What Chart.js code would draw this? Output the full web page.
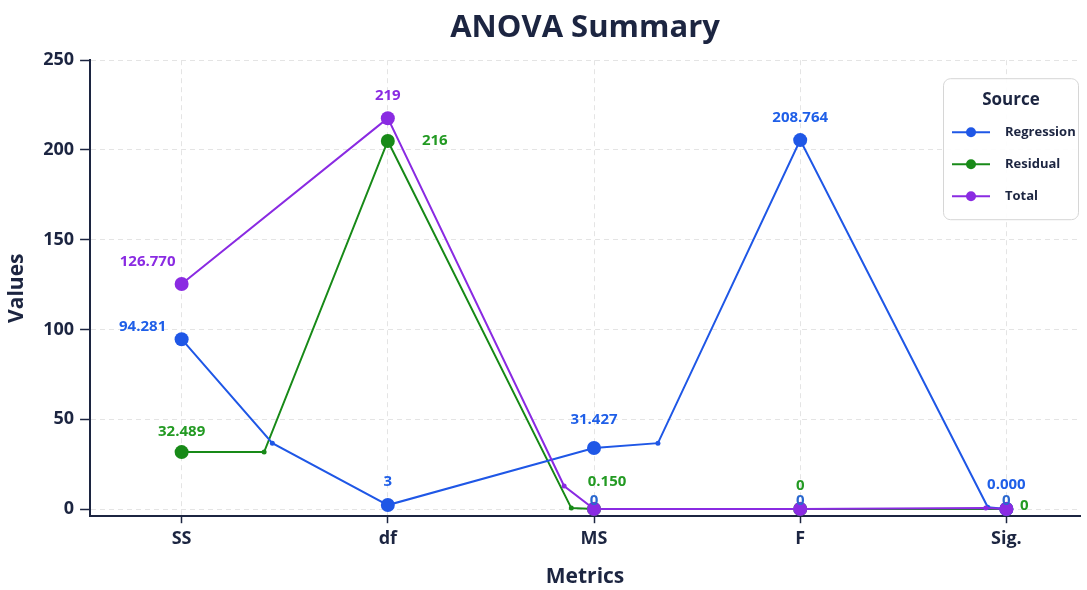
<!DOCTYPE html>
<html><head><meta charset="utf-8">
<script src="https://cdn.jsdelivr.net/npm/chart.js@4.4.0/dist/chart.umd.min.js"></script>
<style>html,body{margin:0;padding:0;background:#fff;}</style>
</head><body>
<canvas id="c" width="1087" height="590" style="width:1087px;height:590px;display:block"></canvas>
<script>
const categories = ['SS', 'df', 'MS', 'F', 'Sig.'];
const seriesNames = ['Regression', 'Residual', 'Total'];
const seriesColors = ['#1f57e6', '#188a18', '#8a2be2'];
const labelColors = ['#1f5fe8', '#239a23', '#8a2be2'];
// plotted values (as drawn) per category
const regressionValues = [94.6, 2.2, 34.0, 205.5, 0];
const residualValues = [31.7, 205.0, 0, 0, 0];
const totalValues = [125.3, 217.7, 0, 0, 0];
// printed value labels
const regressionLabels = ['94.281', '3', '31.427', '208.764', '0.000'];
const residualLabels = ['32.489', '216', '0.150', '0', '0'];
const totalLabels = ['126.770', '219', '0', '0', '0'];
// intermediate bend points (category position, value)
const regressionBendX = [0.44, 2.31, 3.91];
const regressionBendY = [36.7, 36.7, 1.0];
const residualBendX = [0.40, 1.89];
const residualBendY = [31.7, 0.5];
const totalBendX = [1.855, 3.9];
const totalBendY = [12.8, 0.5];
const yTicks = [0, 50, 100, 150, 200, 250];

const FONT = '"Open Sans", "Noto Sans", sans-serif';
const NAVY = '#1c2541';

function buildSeries(values, bx, by) {
  const pts = values.map((v, i) => ({ x: i, y: v, main: true }));
  bx.forEach((x, i) => pts.push({ x: x, y: by[i], main: false }));
  pts.sort((a, b) => a.x - b.x);
  return pts;
}
const allValues = [regressionValues, residualValues, totalValues];
const allLabels = [regressionLabels, residualLabels, totalLabels];
const allBends = [[regressionBendX, regressionBendY], [residualBendX, residualBendY], [totalBendX, totalBendY]];
const drawOrder = [1, 2, 0];

const datasets = seriesNames.map((name, k) => ({
  label: name,
  data: buildSeries(allValues[k], allBends[k][0], allBends[k][1]),
  borderColor: seriesColors[k],
  backgroundColor: seriesColors[k],
  borderWidth: 2,
  tension: 0,
  order: drawOrder[k],
  pointRadius: ctx => (ctx.raw && ctx.raw.main ? 7 : 2.5),
  pointHoverRadius: ctx => (ctx.raw && ctx.raw.main ? 7 : 2.5),
  pointBorderWidth: 0
}));

const labelOffsets = [
  [[-39, -12], [0, -23], [0, -28], [0, -22], [0, -24]],
  [[0, -20], [47, 0], [13, -27], [0, -23], [18, -3]],
  [[-34, -22], [0, -22], [0, -8], [0, -8], [0, -8]]
];

const valueLabelPlugin = {
  id: 'valueLabels',
  afterDatasetsDraw(chart) {
    const ctx = chart.ctx;
    ctx.save();
    ctx.font = 'bold 15px ' + FONT;
    ctx.textAlign = 'center';
    ctx.textBaseline = 'middle';
    [2, 1, 0].forEach(k => {
      const meta = chart.getDatasetMeta(k);
      meta.data.forEach((el, j) => {
        const raw = chart.data.datasets[k].data[j];
        if (!raw.main) return;
        const i = raw.x;
        const txt = allLabels[k][i];
        const off = labelOffsets[k][i];
        ctx.fillStyle = (k === 2 && txt === '0') ? '#2a68cf' : labelColors[k];
        ctx.fillText(txt, el.x + off[0], el.y + off[1]);
      });
    });
    ctx.restore();
  }
};

const legendPlugin = {
  id: 'boxLegend',
  afterDraw(chart) {
    const ctx = chart.ctx;
    const ca = chart.chartArea;
    const w = 135, h = 141;
    const x0 = ca.right - w - 2, y0 = ca.top + 18;
    ctx.save();
    ctx.beginPath();
    ctx.roundRect(x0 + 0.5, y0 + 0.5, w, h, 7);
    ctx.fillStyle = 'rgba(255,255,255,0.92)';
    ctx.fill();
    ctx.strokeStyle = '#d6d6d6';
    ctx.lineWidth = 1;
    ctx.stroke();
    ctx.fillStyle = NAVY;
    ctx.font = 'bold 17px ' + FONT;
    ctx.textAlign = 'center';
    ctx.textBaseline = 'middle';
    ctx.fillText('Source', x0 + 68, y0 + 22);
    ctx.font = 'bold 13px ' + FONT;
    ctx.textAlign = 'left';
    seriesNames.forEach((name, k) => {
      const yy = y0 + 54 + k * 32;
      ctx.strokeStyle = seriesColors[k];
      ctx.lineWidth = 2;
      ctx.beginPath();
      ctx.moveTo(x0 + 9, yy);
      ctx.lineTo(x0 + 47, yy);
      ctx.stroke();
      ctx.fillStyle = seriesColors[k];
      ctx.beginPath();
      ctx.arc(x0 + 28, yy, 5, 0, Math.PI * 2);
      ctx.fill();
      ctx.fillStyle = NAVY;
      ctx.fillText(name, x0 + 62, yy);
    });
    ctx.restore();
  }
};

new Chart(document.getElementById('c'), {
  type: 'line',
  data: { datasets: datasets },
  plugins: [valueLabelPlugin, legendPlugin],
  options: {
    responsive: false,
    animation: false,
    devicePixelRatio: 1,
    layout: { padding: { left: 4, right: 2, top: 0, bottom: 0 } },
    plugins: {
      legend: { display: false },
      tooltip: { enabled: false },
      title: {
        display: true,
        text: 'ANOVA Summary',
        fullSize: false,
        color: NAVY,
        font: { size: 31, weight: 'bold', family: FONT },
        padding: { top: 10, bottom: 13 }
      }
    },
    scales: {
      x: {
        type: 'linear',
        min: -0.444,
        max: 4.357,
        afterBuildTicks: s => { s.ticks = categories.map((c, i) => ({ value: i })); },
        ticks: {
          autoSkip: false,
          callback: v => categories[v],
          color: NAVY,
          font: { size: 18, weight: 'bold', family: FONT },
          padding: 5
        },
        grid: { color: '#e4e4e4', lineWidth: 1, tickColor: NAVY, tickLength: 7, tickWidth: 1.5 },
        border: { color: NAVY, width: 2, dash: [5, 4] },
        title: {
          display: true, text: 'Metrics', color: NAVY,
          font: { size: 21, weight: 'bold', family: FONT },
          padding: { top: 10, bottom: 0 }
        }
      },
      y: {
        type: 'linear',
        min: -4,
        max: 250,
        afterBuildTicks: s => { s.ticks = yTicks.map(v => ({ value: v })); },
        ticks: {
          color: NAVY,
          font: { size: 18, weight: 'bold', family: FONT },
          padding: 6
        },
        grid: { color: '#e4e4e4', lineWidth: 1, tickColor: NAVY, tickLength: 10, tickWidth: 1.5 },
        border: { color: NAVY, width: 2, dash: [5, 4] },
        title: {
          display: true, text: 'Values', color: NAVY,
          font: { size: 21, weight: 'bold', family: FONT },
          padding: { top: 0, bottom: 8 }
        }
      }
    }
  }
});
</script>
</body></html>
